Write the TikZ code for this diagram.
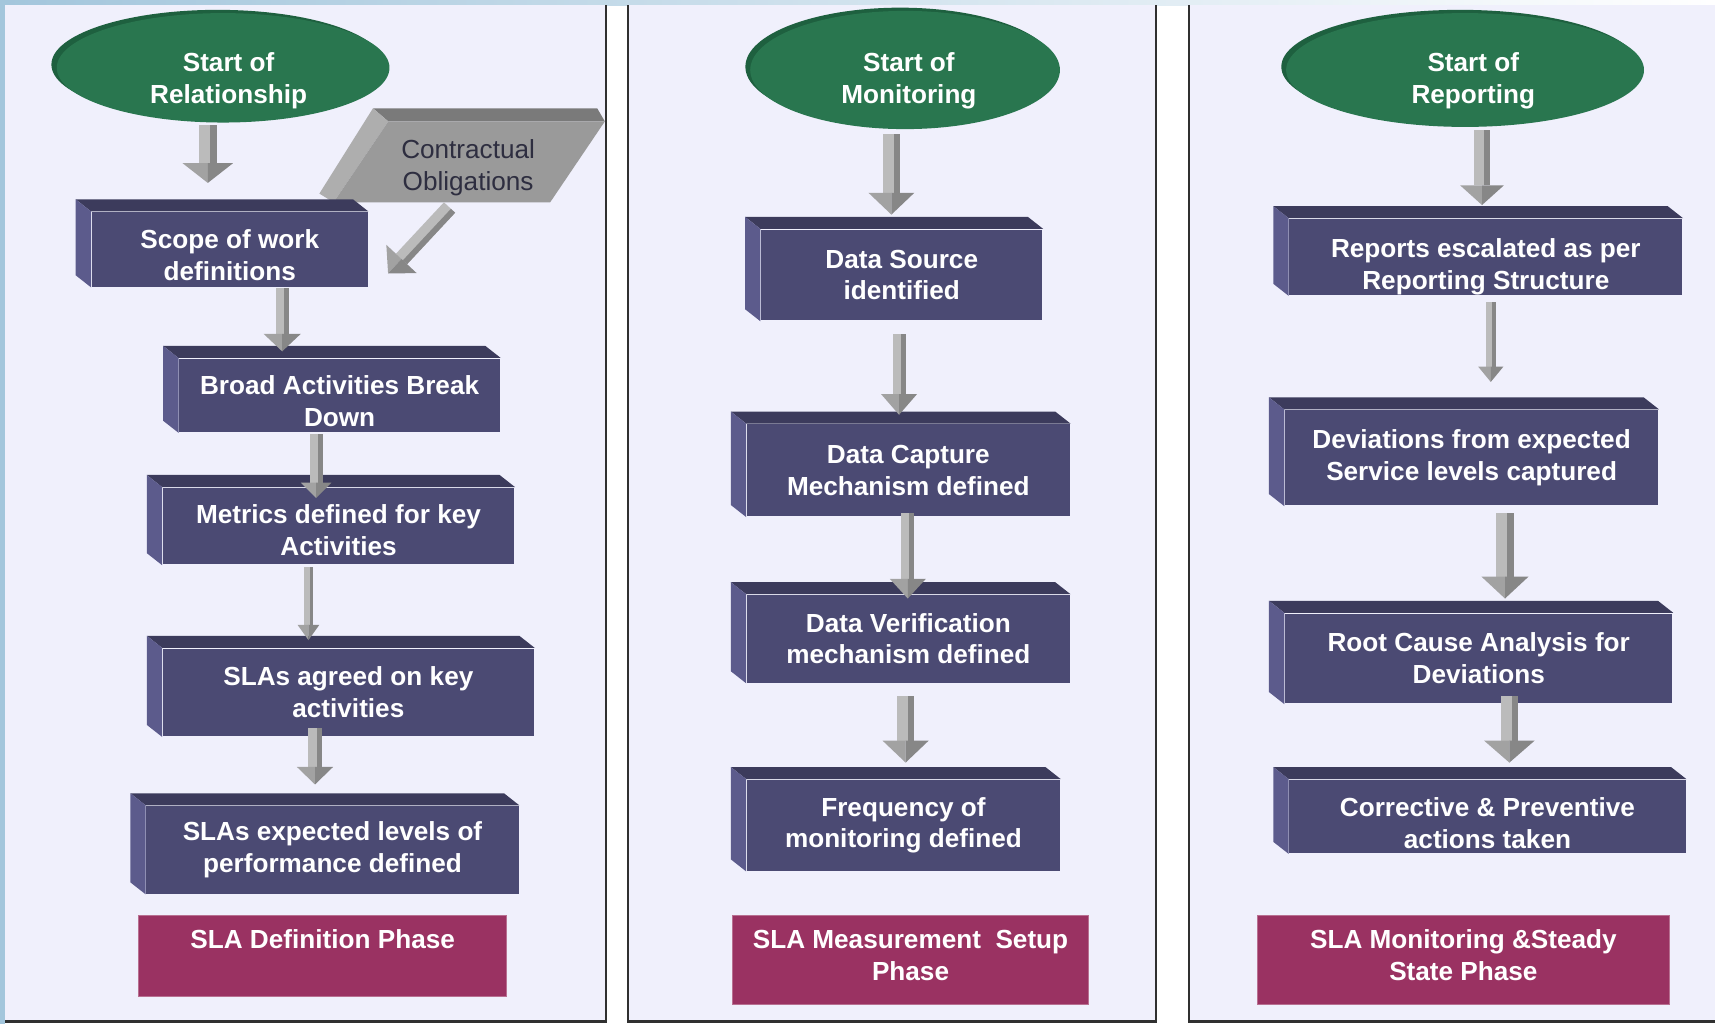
\documentclass[tikz,border=0pt]{standalone}
\usepackage{fontspec}
\setmainfont{Liberation Sans}
\usetikzlibrary{calc,shapes.geometric}
\definecolor{panelbg}{HTML}{F0F0FC}
\definecolor{boxfront}{HTML}{4B4A73}
\definecolor{boxtop}{HTML}{3C3B5C}
\definecolor{boxleft}{HTML}{5C5B8C}
\definecolor{startgreen}{HTML}{29764F}
\definecolor{startrim}{HTML}{1E603F}
\definecolor{phasefill}{HTML}{9A3262}
\definecolor{arrlight}{HTML}{BBBBBB}
\definecolor{arrmid}{HTML}{A2A2A2}
\definecolor{arrdark}{HTML}{878787}
\definecolor{coFront}{HTML}{9A9A9A}
\definecolor{coTop}{HTML}{7A7A7A}
\definecolor{coLeft}{HTML}{AEAEAE}
\definecolor{cotext}{HTML}{2E2E40}
\definecolor{edgeblue}{HTML}{A3C6DC}
\definecolor{borderc}{HTML}{303030}

\tikzset{
  txtfont/.style={font=\bfseries\fontsize{6.8}{8.25}\selectfont},
  proc/.style={fill=boxfront, text=white, txtfont, align=center, inner sep=0pt},
  startnode/.style={ellipse, fill=startgreen, inner sep=0pt},
  starttext/.style={text=white, txtfont, align=center, inner sep=0pt},
  phase/.style={fill=phasefill, draw=phasefill!70!white, line width=0.3pt, text=white, txtfont, align=center, inner sep=0pt},
  cobox/.style={text=cotext, font=\fontsize{6.8}{8.25}\selectfont, align=center, inner sep=0pt},
  panel/.style={fill=panelbg},
  border/.style={draw=borderc, line width=0.6pt},
}

% first-line strut that lowers the text block (height in pt)
\newcommand\lowr[1]{\rule{0pt}{#1}}
% last-line depth that raises the text block
\newcommand\raiz[1]{\rule[-#1]{0pt}{#1}}

% 3D extrusion of a process box (faces to the upper left)
\newcommand\extrude[1]{%
  \fill[boxtop] (#1.north west) -- ($(#1.north west)+(-14,-11)$) -- ($(#1.north east)+(-14,-11)$) -- (#1.north east) -- cycle;
  \fill[boxleft] (#1.north west) -- ($(#1.north west)+(-14,-11)$) -- ($(#1.south west)+(-14,-11)$) -- (#1.south west) -- cycle;
}

% block arrow: #1 start, #2 tip, #3 shaft half width, #4 head half width, #5 head length
\newcommand\barrow[5]{%
  \path #1 coordinate (bas);
  \path #2 coordinate (bae);
  \pgfpointdiff{\pgfpointanchor{bas}{center}}{\pgfpointanchor{bae}{center}}%
  \pgfgetlastxy{\bax}{\bay}%
  \pgfmathsetmacro\baang{atan2(\bay,\bax)}%
  \pgfmathsetmacro\balen{veclen(\bax,\bay)/0.284528}%
  \pgfmathsetmacro\bab{\balen-#5}%
  \begin{scope}[shift={(bas)}, rotate=\baang, x=0.01cm, y=0.01cm]
    \fill[arrlight] (0,-#3) -- (\bab,-#3) -- (\bab,#3) -- (0,#3) -- cycle;
    \fill[arrdark] (0,0.25*#3) -- (\bab,0.25*#3) -- (\bab,#3) -- (0,#3) -- cycle;
    \fill[arrmid] (\bab,-#4) -- (\balen,0) -- (\bab,0) -- cycle;
    \fill[arrdark] (\bab,#4) -- (\balen,0) -- (\bab,0) -- cycle;
  \end{scope}
}

\begin{document}
\begin{tikzpicture}[x=0.01cm, y=-0.01cm]
\useasboundingbox (0,0) rectangle (1568,936);
% background
\fill[white] (0,0) rectangle (1568,936);
\shade[left color=edgeblue, right color=white] (0,0) rectangle (1568,5);
\fill[edgeblue] (0,0) rectangle (5,936);

% panels
\fill[panel] (5,5) rectangle (554,934);
\draw[border] (554,5) -- (554,934) -- (5,934);
\fill[panel] (574,5) rectangle (1057,934);
\draw[border] (574,5) -- (574,934) -- (1057,934) -- (1057,5);
\fill[panel] (1087,5) rectangle (1568,934);
\draw[border] (1087,5) -- (1087,934) -- (1568,934);

% ===== Panel 1 =====
\fill[startrim] (199,59) ellipse [x radius=152, y radius=50];
\node[startnode, minimum width=3.04cm, minimum height=1.00cm,
  label={[starttext, shift={(5,12)}]center:Start of\\Relationship}] (e1) at (204,62) {};

% contractual obligations (3D parallelogram)
\fill[coTop] (341,99) -- (546,99) -- (553,111) -- (355,111) -- cycle;
\fill[coLeft] (341,99) -- (355,111) -- (305,185) -- (292,177) -- cycle;
\fill[coFront] (355,111) -- (553,111) -- (503,185) -- (305,185) -- cycle;
\node[cobox, minimum width=1.9cm, minimum height=0.74cm] (contract) at (428,150) {\lowr{6.7pt}Contractual\\Obligations};

\node[proc, minimum width=2.52cm, minimum height=0.68cm] (scope) at (210,228) {\lowr{7.8pt}Scope of work\\definitions};
\extrude{scope}
\node[proc, minimum width=2.93cm, minimum height=0.67cm] (broad) at (310.5,361.5) {\lowr{7.8pt}Broad Activities Break\\Down};
\extrude{broad}
\node[proc, minimum width=3.21cm, minimum height=0.70cm] (metrics) at (309.5,481) {\lowr{7.2pt}Metrics defined for key\\Activities};
\extrude{metrics}
\node[proc, minimum width=3.39cm, minimum height=0.80cm] (agreed) at (318.5,633) {SLAs agreed on key\\activities};
\extrude{agreed}
\node[proc, minimum width=3.40cm, minimum height=0.80cm] (expected) at (304,777) {SLAs expected levels of\\performance defined};
\extrude{expected}
\node[phase, minimum width=3.36cm, minimum height=0.74cm] (ph1) at (295,874) {\lowr{6.7pt}SLA Definition Phase\\\strut};

\barrow{($(e1.south)+(-14,2)$)}{($(scope.north)+(-20,-26)$)}{8}{23}{18}
\barrow{($(contract.south)+(-17,2)$)}{($(scope.east)+(18,22)$)}{7}{19}{18}
\barrow{($(scope.south)+(48,1)$)}{($(broad.north)+(-52.5,-6)$)}{6}{17}{16}
\barrow{($(broad.south)+(-21.5,1)$)}{($(metrics.north)+(-20.5,10)$)}{6}{14}{14}
\barrow{($(metrics.south)+(-27.5,2)$)}{($(agreed.north)+(-36.5,-7)$)}{4}{10}{14}
\barrow{($(agreed.south)+(-30.5,-8)$)}{($(expected.north)+(-16,-19)$)}{6.5}{16.5}{16}

% ===== Panel 2 =====
\fill[startrim] (823,61) ellipse [x radius=141.5, y radius=54];
\node[startnode, minimum width=2.83cm, minimum height=1.08cm,
  label={[starttext, shift={(3.5,10)}]center:Start of\\Monitoring}] (e2) at (827.5,64) {};

\node[proc, minimum width=2.57cm, minimum height=0.83cm] (dsrc) at (824.5,251.5) {Data Source\\identified};
\extrude{dsrc}
\node[proc, minimum width=2.95cm, minimum height=0.84cm] (dcap) at (830.5,430) {Data Capture\\Mechanism defined};
\extrude{dcap}
\node[proc, minimum width=2.95cm, minimum height=0.80cm] (dver) at (830.5,584) {Data Verification\\mechanism defined};
\extrude{dver}
\node[proc, minimum width=2.86cm, minimum height=0.83cm] (freq) at (826,754.5) {Frequency of\\monitoring defined};
\extrude{freq}
\node[phase, minimum width=3.25cm, minimum height=0.81cm] (ph2) at (832.5,877.5) {SLA Measurement\ \ Setup\\Phase\raiz{2.3pt}};

\barrow{($(e2.south)+(-12.5,4)$)}{($(dsrc.north)+(-9.5,-13)$)}{8}{21}{20}
\barrow{($(dsrc.south)+(-2.5,12)$)}{($(dcap.north)+(-8.5,-8)$)}{6}{16.5}{19}
\barrow{($(dcap.south)+(-0.5,-4)$)}{($(dver.north)+(-0.5,4)$)}{6}{16.5}{18}
\barrow{($(dver.south)+(-2.5,12)$)}{($(freq.north)+(2,-15)$)}{8}{21}{20}

% ===== Panel 3 =====
\fill[startrim] (1335,61) ellipse [x radius=163.5, y radius=52];
\node[startnode, minimum width=3.27cm, minimum height=1.04cm,
  label={[starttext, shift={(7.5,10)}]center:Start of\\Reporting}] (e3) at (1339.5,64) {};

\node[proc, minimum width=3.59cm, minimum height=0.66cm] (rep) at (1358.5,235) {\lowr{10.1pt}Reports escalated as per\\Reporting Structure};
\extrude{rep}
\node[proc, minimum width=3.41cm, minimum height=0.87cm] (dev) at (1345.5,418.5) {Deviations from expected\\Service levels captured};
\extrude{dev}
\node[proc, minimum width=3.54cm, minimum height=0.82cm] (rca) at (1352,602) {Root Cause Analysis for\\Deviations};
\extrude{rca}
\node[proc, minimum width=3.62cm, minimum height=0.67cm] (corr) at (1360,746.5) {\lowr{8.4pt}Corrective \& Preventive\\actions taken};
\extrude{corr}
\node[phase, minimum width=3.76cm, minimum height=0.81cm] (ph3) at (1338,877.5) {SLA Monitoring \&Steady\\State Phase\raiz{2.3pt}};

\barrow{($(e3.south)+(15.5,2)$)}{($(rep.north)+(-3.5,-12)$)}{7}{20}{18}
\barrow{($(rep.south)+(4.5,6)$)}{($(dev.north)+(17.5,-25)$)}{4.5}{11.5}{14}
\barrow{($(dev.south)+(30.5,6)$)}{($(rca.north)+(24,-13)$)}{8.5}{21.5}{20}
\barrow{($(rca.south)+(28,-7)$)}{($(corr.north)+(20,-15)$)}{8}{23}{20}
\end{tikzpicture}
\end{document}
